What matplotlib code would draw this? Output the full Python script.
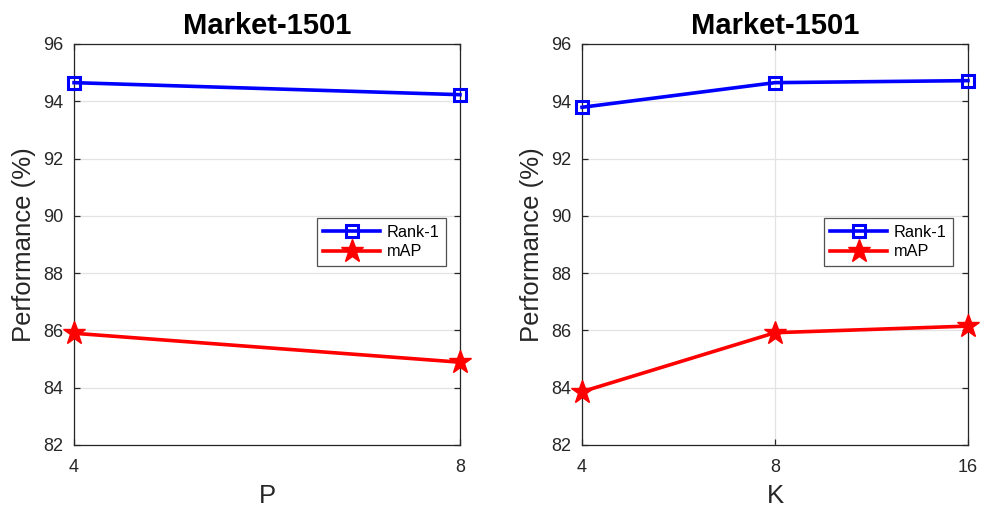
import numpy as np
import matplotlib
matplotlib.use("Agg")
from matplotlib import pyplot as plt

plt.rcParams['font.family'] = ['Liberation Sans', 'DejaVu Sans']

# P sweep (left) and K sweep (right), Market-1501
p_vals = [4, 8]
p_rank1 = [94.65, 94.23]
p_map = [85.90, 84.89]

k_vals = [4, 8, 16]
k_rank1 = [93.79, 94.65, 94.72]
k_map = [83.86, 85.92, 86.15]

yticks = [82, 84, 86, 88, 90, 92, 94, 96]

fig = plt.figure(figsize=(9.82, 5.12), dpi=100)
ax1 = fig.add_axes([0.0754, 0.1309, 0.3930, 0.7832])
ax2 = fig.add_axes([0.5927, 0.1309, 0.3930, 0.7832])


def draw(ax, x, r1, mp, xlabel, legend_x):
    ax.plot(x, r1, color='#0000ff', lw=2.6, marker='s', ms=8.5,
            mfc='none', mec='#0000ff', mew=2.2, label='Rank-1', zorder=3,
            clip_on=False)
    ax.plot(x, mp, color='#ff0000', lw=2.6, marker='*', ms=17,
            mfc='#ff0000', mec='#ff0000', label='mAP', zorder=3,
            clip_on=False)
    ax.set_xscale('log', base=2)
    ax.set_xlim(x[0], x[-1])
    ax.set_xticks(x)
    ax.set_xticklabels([str(v) for v in x])
    ax.minorticks_off()
    ax.set_ylim(82, 96)
    ax.set_yticks(yticks)
    ax.grid(True, color='#e3e3e3', lw=0.9)
    ax.set_axisbelow(True)
    for s in ax.spines.values():
        s.set_color('#262626')
        s.set_linewidth(0.9)
    ax.tick_params(direction='in', top=True, right=True, labelsize=13,
                   colors='#262626', length=4, width=0.9)
    ax.tick_params(axis='y', pad=8)
    ax.tick_params(axis='x', pad=10)
    ax.set_xlabel(xlabel, fontsize=18.5, color='#262626', labelpad=6)
    ax.set_ylabel('Performance (%)', fontsize=18.5, color='#262626',
                  labelpad=5)
    ax.set_title('Market-1501', fontsize=21, fontweight='bold', pad=7)
    leg = ax.legend(loc='upper right', bbox_to_anchor=(legend_x, 0.566),
                    fontsize=11.7, frameon=True, fancybox=False,
                    borderpad=0.4, handlelength=3.5, handletextpad=0.4,
                    labelspacing=0.3, borderaxespad=0)
    leg.get_frame().set_edgecolor('#262626')
    leg.get_frame().set_linewidth(0.9)


draw(ax1, p_vals, p_rank1, p_map, 'P', 0.964)
draw(ax2, k_vals, k_rank1, k_map, 'K', 0.961)

fig.savefig('out.png', dpi=100)
